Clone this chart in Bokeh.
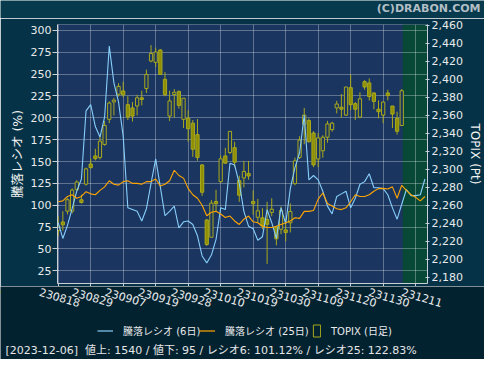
import math
from bokeh.plotting import figure
from bokeh.layouts import column
from bokeh.models import (Range1d, LinearAxis, FixedTicker, NumeralTickFormatter, BoxAnnotation,
                          Label, ColumnDataSource, Legend, LegendItem)
from bokeh.core.properties import value
from bokeh.embed import file_html
from bokeh.resources import INLINE

# ---------------- data ----------------
tick_idx = [0, 7, 14, 21, 28, 35, 42, 49, 56, 63, 70, 77]
tick_labels = ["230818", "230829", "230907", "230919", "230928", "231010",
               "231019", "231030", "231109", "231120", "231130", "231211"]

topix_open = [2232, 2241.6, 2253.6, 2253.6, 2277.8, 2266.3, 2283.6, 2306, 2315, 2313.3,
              2327.8, 2355.7, 2375, 2383.6, 2387.2, 2372, 2368.4, 2370.5, 2379.6, 2390,
              2420.5, 2419, 2432.8, 2400.2, 2359.3, 2383.2, 2386.8, 2355.7, 2357, 2351.4,
              2338.7, 2305, 2243.8, 2224.6, 2264.4, 2286.4, 2315, 2318.8, 2324.2, 2287.6,
              2290.5, 2295.6, 2264.4, 2246.8, 2246.2, 2244.4, 2252.2, 2235.6, 2233.5, 2232.8,
              2240.7, 2284.2, 2313.4, 2350.3, 2354.3, 2340.5, 2311.6, 2320.7, 2335.8, 2344.2,
              2368.4, 2369.1, 2360.4, 2390.9, 2373.1, 2358.2, 2397.6, 2396.2, 2385, 2366.9,
              2360.4, 2385, 2370.5, 2356.8, 2348.8]
topix_high = [2248, 2253.6, 2268, 2279, 2288, 2272, 2302, 2312, 2323, 2336.9,
              2353.9, 2375.6, 2379.6, 2395.9, 2397.4, 2381.4, 2374.9, 2382.9, 2387.5, 2411,
              2438.2, 2435.3, 2433.6, 2408.2, 2387.5, 2389.3, 2387.5, 2379.2, 2365.9, 2355,
              2356, 2306, 2245, 2266, 2277.4, 2315.4, 2324, 2342.3, 2330.7, 2293,
              2309.5, 2309.5, 2276.7, 2267.2, 2256.9, 2264, 2268, 2237.4, 2258.7, 2245.5,
              2262.3, 2313.2, 2337, 2368.4, 2356.8, 2342.4, 2340.5, 2338, 2354, 2353,
              2376.3, 2383.9, 2391.6, 2405.6, 2374.9, 2385.8, 2399.3, 2401.2, 2385.8, 2376.7,
              2375.6, 2388.6, 2370.5, 2364.1, 2389.3]
topix_low = [2226, 2232, 2250, 2251, 2276, 2262, 2282, 2301, 2310, 2311,
             2326.4, 2351.4, 2360, 2381, 2380.3, 2354.9, 2353.2, 2360, 2371.2, 2385,
             2419, 2414, 2404.9, 2381.4, 2353.9, 2357.5, 2367.6, 2346, 2330.8, 2314,
             2309.7, 2270.6, 2215, 2224.6, 2253.6, 2285.3, 2306, 2317, 2302.5, 2264,
             2280, 2288.6, 2249.6, 2240.7, 2233.5, 2195, 2248, 2215.7, 2228, 2220,
             2229.9, 2282.4, 2311.6, 2328, 2329.7, 2302.5, 2302.5, 2313, 2329.7, 2342,
             2362.2, 2357.5, 2359.4, 2365.9, 2355, 2356.8, 2388.6, 2376.7, 2366.9, 2356.8,
             2351.4, 2376.7, 2346, 2338.8, 2348.8]
topix_close = [2237, 2238.4, 2266.3, 2277, 2286, 2263.3, 2300.6, 2302, 2312, 2331.4,
               2348.8, 2373.8, 2377, 2392.3, 2382.9, 2358.2, 2359.3, 2379.6, 2377.8, 2405.6,
               2428.8, 2430.6, 2405.6, 2382.9, 2376.2, 2385.7, 2371.2, 2379.2, 2345.2, 2322.4,
               2313.3, 2274.6, 2216.6, 2262.6, 2261.9, 2311.8, 2307, 2342.3, 2308, 2271.3,
               2297.7, 2292.7, 2261.9, 2254, 2237.1, 2239, 2255.8, 2222.9, 2254.4, 2229.9,
               2253.3, 2309.5, 2332.6, 2360.4, 2330.8, 2305, 2335.1, 2335.8, 2350.6, 2351.4,
               2372.7, 2366.9, 2391.6, 2372, 2366.9, 2378.5, 2391.6, 2381, 2375.6, 2364.1,
               2374.9, 2382.1, 2361.5, 2342.4, 2387.5]

ratio6 = [80, 62, 77, 96, 116, 130, 208, 215, 190, 178,
          201, 282, 240, 218, 179, 97, 95, 93, 82, 96,
          125, 153, 121, 88, 93, 99, 74, 81, 82, 78,
          65, 42, 34, 43, 61, 97, 95, 148, 146, 125,
          93, 76, 73, 60, 64, 95, 80, 62, 97, 79,
          119, 143, 160, 203, 129, 134, 129, 116, 99, 90,
          110, 113, 116, 97, 108, 124, 127, 136, 120, 120,
          119, 112, 97, 84, 101.12, 118, 111, 111, 112, 130]
ratio25 = [104, 105, 110, 112, 108, 110, 115.5, 113, 112, 117,
           121, 128, 124, 123, 127, 128, 125, 125, 124, 127,
           127, 130, 122, 124, 128, 140, 134, 131, 119, 112,
           108, 100, 88, 92, 93, 90, 86, 87.6, 82, 78,
           84, 87.6, 81, 80, 76, 74.5, 74.5, 76, 78, 80,
           82, 85.7, 85, 93, 93, 94, 107, 114, 102, 99,
           96, 95, 97, 104, 112, 110, 110, 112, 116, 119,
           119.3, 118.5, 121, 108, 122.83, 117, 112, 109, 105, 110]

left_ticks = [25, 50, 75, 100, 125, 150, 175, 200, 225, 250, 275, 300]
right_ticks = list(range(2180, 2461, 20))

legend_labels = ["騰落レシオ (6日)", "騰落レシオ (25日)", "TOPIX (日足)"]
footer_text = "[2023-12-06]\u00a0 値上: 1540 / 値下: 95 / レシオ6: 101.12% / レシオ25: 122.83%"
copyright_text = "(C)DRABON.COM"

# ---------------- styles ----------------
NAVY = "#1a3560"
TOP = "#073a4d"
BORDER = "#053246"
BOTTOM = "#03222f"
GREEN = "#084837"
OLIVE_LINE = "#a9a91c"
OLIVE_FILL = "#8f8f05"
BLUE = "#87cefa"
ORANGE = "#ffa500"
AXIS = "#c8d0d8"
TXT = "#e8eaec"
FONT = "DejaVu Sans, Noto Sans CJK JP"

W = 484
H0 = 18
H1 = 268
H2 = 359 - H0 - H1
XR = (-0.15, 79.55)
FL, FR = 57, 52  # frame borders left / right


def strip(height, color):
    f = figure(width=W, height=height, title=None, x_range=Range1d(0, 1), y_range=Range1d(0, 1),
               output_backend="svg", toolbar_location=None,
               x_axis_location=None, y_axis_location=None,
               min_border=0, min_border_left=0, min_border_right=0, min_border_top=0,
               min_border_bottom=0, background_fill_color=color, border_fill_color=color,
               outline_line_color=None)
    f.frame_align = False
    f.xgrid.visible = False
    f.ygrid.visible = False
    return f


# ---------------- top strip: copyright ----------------
p0 = strip(H0, TOP)
p0.add_layout(Label(x=480, y=10.5, x_units="screen", y_units="screen", text=copyright_text,
                    text_align="right", text_baseline="middle", text_font="DejaVu Sans",
                    text_font_style="bold", text_font_size="11px", text_color="#b3bec5"))

# ---------------- main chart ----------------
p = figure(width=W, height=H1, title=None,
           x_range=Range1d(*XR), y_range=Range1d(10.47, 306.7),
           output_backend="svg", toolbar_location=None,
           min_border_left=FL, min_border_right=FR, min_border_top=6, min_border_bottom=3,
           background_fill_color=NAVY, border_fill_color=BORDER, outline_line_color=None)
p.frame_align = False
p.extra_y_ranges = {"topix": Range1d(2173.2, 2461.1)}

# future (green) zone
p.add_layout(BoxAnnotation(left=74.2, fill_color=GREEN, fill_alpha=1.0, line_color=None, level="image"))

xt = FixedTicker(ticks=tick_idx)
yt = FixedTicker(ticks=left_ticks)
ax = p.xaxis[0]
ax.ticker = xt
ax.major_label_overrides = {float(t): "" for t in tick_idx}
ax.major_label_text_font_size = "0px"
ax.major_tick_out = 3
ax.major_tick_in = 0
ax.minor_tick_line_color = None
ax.axis_line_color = AXIS
ax.major_tick_line_color = AXIS
ax.major_label_standoff = 0

ay = p.yaxis[0]
ay.ticker = yt
ay.major_tick_out = 5
ay.major_tick_in = 1
ay.minor_tick_line_color = None
ay.major_label_standoff = 1
ay.axis_line_color = AXIS
ay.major_tick_line_color = AXIS
ay.major_label_text_color = TXT
ay.major_label_text_font = "DejaVu Sans"
ay.major_label_text_font_size = "11px"
ay.axis_label = "騰落レシオ (%)"
ay.axis_label_standoff = 3
ay.axis_label_text_font = FONT
ay.axis_label_text_font_size = "12.5px"
ay.axis_label_text_font_style = "normal"
ay.axis_label_text_color = "#f2f2f2"

ar = LinearAxis(y_range_name="topix", ticker=FixedTicker(ticks=right_ticks),
                formatter=NumeralTickFormatter(format="0,0"))
ar.major_tick_out = 2
ar.major_tick_in = 2
ar.minor_tick_line_color = None
ar.major_label_standoff = 2
ar.axis_line_color = AXIS
ar.major_tick_line_color = AXIS
ar.major_label_text_color = TXT
ar.major_label_text_font = "DejaVu Sans"
ar.major_label_text_font_size = "11px"
ar.axis_label = "TOPIX (Pt)"
ar.axis_label_standoff = 2
ar.axis_label_text_font = FONT
ar.axis_label_text_font_size = "12px"
ar.axis_label_text_font_style = "normal"
ar.axis_label_text_color = "#f2f2f2"
p.add_layout(ar, "right")

for g in (p.xgrid[0], p.ygrid[0]):
    g.grid_line_color = "#ffffff"
    g.grid_line_alpha = 0.3
    g.grid_line_width = 1
p.xgrid[0].ticker = xt
p.ygrid[0].ticker = yt

# candles
idx = list(range(len(topix_open)))
up = [c >= o for o, c in zip(topix_open, topix_close)]
src_up = ColumnDataSource(dict(
    x=[i for i, u in zip(idx, up) if u],
    top=[c for c, u in zip(topix_close, up) if u],
    bottom=[o for o, u in zip(topix_open, up) if u]))
src_dn = ColumnDataSource(dict(
    x=[i for i, u in zip(idx, up) if not u],
    top=[o for o, u in zip(topix_open, up) if not u],
    bottom=[c for c, u in zip(topix_close, up) if not u]))
p.segment(x0=idx, y0=topix_low, x1=idx, y1=topix_high, y_range_name="topix",
          line_color=OLIVE_LINE, line_width=1)
p.vbar(x="x", top="top", bottom="bottom", width=0.7, source=src_up, y_range_name="topix",
       fill_color=NAVY, line_color=OLIVE_LINE, line_width=1)
p.vbar(x="x", top="top", bottom="bottom", width=0.7, source=src_dn, y_range_name="topix",
       fill_color=OLIVE_FILL, line_color=OLIVE_LINE, line_width=1)

# ratio lines
xl = list(range(len(ratio6)))
p.line(xl, ratio6, line_color=BLUE, line_width=1.1)
p.line(xl, ratio25, line_color=ORANGE, line_width=1.1)

# ---------------- bottom strip: tick labels, legend, footer ----------------
k = (W - FL - FR) / (XR[1] - XR[0])
x2 = Range1d(XR[0] - FL / k, XR[0] + (W - FL) / k)
p2 = figure(width=W, height=H2, title=None, x_range=x2, y_range=Range1d(H2, 0),
            output_backend="svg", toolbar_location=None,
            x_axis_location=None, y_axis_location=None,
            min_border=0, min_border_left=0, min_border_right=0, min_border_top=0, min_border_bottom=0,
            background_fill_color=BOTTOM, border_fill_color=BOTTOM, outline_line_color=None)
p2.frame_align = False
p2.xgrid.visible = False
p2.ygrid.visible = False

tick_src = ColumnDataSource(dict(x=tick_idx, y=[11] * len(tick_idx), text=tick_labels))
p2.text(x="x", y="y", text="text", source=tick_src, angle=-0.28, text_align="center",
        text_baseline="middle", x_offset=1.5, text_font=value("DejaVu Sans"),
        text_font_size=value("11px"), text_color=TXT)

# legend icons (renderers kept outside the visible range)
lb = p2.line([-40, -39], [5, 6], line_color=BLUE, line_width=1.2)
lo = p2.line([-40, -39], [5, 6], line_color=ORANGE, line_width=1.2)
lc = p2.vbar(x=[-40], top=[5], bottom=[6], width=0.7, fill_alpha=0,
             line_color=OLIVE_LINE, line_width=1)


def make_legend(label, rend, loc, gw):
    lg = Legend(items=[LegendItem(label=label, renderers=[rend])], location=loc,
                orientation="horizontal", margin=0, padding=0, spacing=0,
                border_line_color=None, background_fill_alpha=0,
                glyph_width=gw, glyph_height=15, label_height=15, label_standoff=10,
                label_text_font=FONT, label_text_font_size="10px", label_text_color=TXT)
    p2.add_layout(lg)


make_legend(legend_labels[0], lb, (97, 21), 16)
make_legend(legend_labels[1], lo, (199, 21), 16)
make_legend(legend_labels[2], lc, (312, 21), 9)

p2.add_layout(Label(x=5, y=9, x_units="screen", y_units="screen", text=footer_text,
                    text_align="left", text_baseline="middle", text_font=FONT,
                    text_font_size="11px", text_color="#e4e6e8"))

layout = column(p0, p, p2, spacing=0)
open("out.html", "w").write(file_html(layout, INLINE))
